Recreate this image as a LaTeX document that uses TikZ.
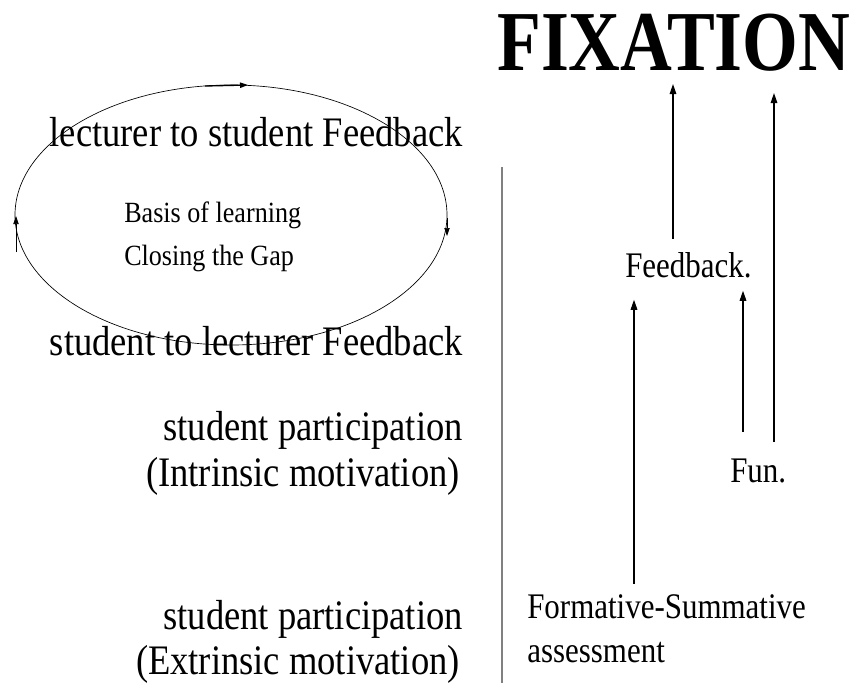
\documentclass[tikz,border=0pt]{standalone}
\usepackage{fontspec}
\setmainfont{Liberation Serif}
\newfontfamily\leftfnt[FakeStretch=0.87]{Liberation Serif}
\newfontfamily\innerfnt[FakeStretch=0.89]{Liberation Serif}
\newfontfamily\rightfnt[FakeStretch=0.86]{Liberation Serif}
\newfontfamily\titlefnt[FakeStretch=0.84]{Liberation Serif}
\usetikzlibrary{arrows.meta,calc}

\begin{document}
\begin{tikzpicture}[x=0.75pt,y=-0.75pt,
        big/.style={inner sep=0, font=\leftfnt\fontsize{31.5}{36}\selectfont},
        small/.style={inner sep=0, font=\innerfnt\fontsize{22}{26}\selectfont},
        mid/.style={inner sep=0, font=\rightfnt\fontsize{27}{32}\selectfont},
        arr/.style={-{Triangle[length=7.5pt,width=5pt]}, line width=0.8pt}]
        \useasboundingbox (0,0) rectangle (853,683);
        % feedback loop
        \draw[line width=0.5pt] (231,215) ellipse [x radius=162pt, y radius=97.5pt];
        \draw[-{Triangle[length=6pt,width=4pt]}, line width=1pt] (205,86) -- (248,85);
        \draw[-{Triangle[length=6pt,width=4pt]}, line width=0.5pt] (447,218) -- (447,236);
        \draw[-{Triangle[length=6pt,width=4pt]}, line width=0.5pt] (16,252) -- (16,216);
        \node[big, anchor=base east] (lts) at (463,146) {lecturer to student Feedback};
        \node[big, anchor=base east] (stl) at (463,355) {student to lecturer Feedback};
        \node[small, anchor=base west] (basis) at (124,222) {Basis of learning};
        \node[small, anchor=base west] (gap) at (124,265) {Closing the Gap};
        % participation
        \node[big, anchor=base east] (ip1) at (463,440) {student participation};
        \node[big, anchor=base east] (ip2) at (460,486) {(Intrinsic motivation)};
        \node[big, anchor=base east] (ep1) at (463,629) {student participation};
        \node[big, anchor=base east] (ep2) at (460,674) {(Extrinsic motivation)};
        \draw[gray, line width=1.2pt] (502,167) -- (502,683);
        % right side
        \node[inner sep=0, anchor=base west, font=\titlefnt\bfseries\fontsize{64}{70}\selectfont] (fix) at (497,70) {FIXATION};
        \node[mid, anchor=base west] (fb) at (625,277) {Feedback.};
        \node[mid, anchor=base west] (fun) at (730,482) {Fun.};
        \node[mid, anchor=base west] (fs1) at (527,618) {Formative-Summative};
        \node[mid, anchor=base west] (fs2) at (527,662) {assessment};
        \draw[arr, shorten >=9.75pt] ($(fb.north west)+(48,-13)$) coordinate (a1) -- (a1 |- fix.south);
        \draw[arr, shorten >=16.5pt] ($(fun.north west)+(44,-16)$) coordinate (b1) -- (b1 |- fix.south);
        \draw[arr, shorten >=9.75pt] ($(fun.north west)+(13,-26)$) coordinate (c1) -- (c1 |- fb.south);
        \draw[arr, shorten >=16.5pt] ($(fs1.north west)+(107,-10)$) coordinate (d1) -- (d1 |- fb.south);
\end{tikzpicture}
\end{document}
